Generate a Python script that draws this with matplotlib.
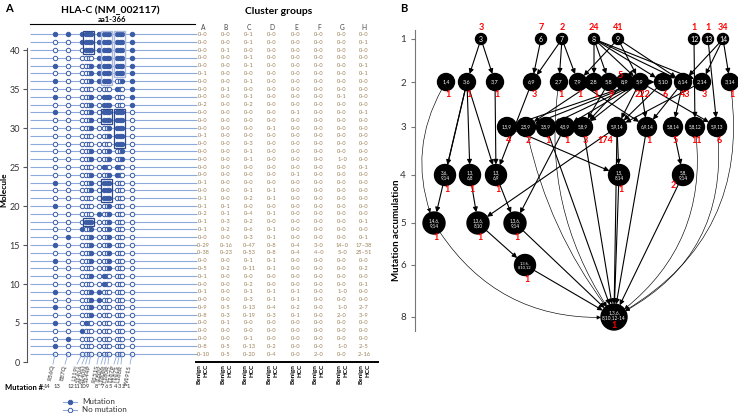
import numpy as np
import matplotlib.pyplot as plt
from matplotlib.patches import Circle, Rectangle

plt.rcParams['font.family'] = ['Lato', 'DejaVu Sans']

W, H = 738, 413

# ---------------- panel A data ----------------
mutation_names = ["R56Q", "E87Q", "L119I", "S140A", "S140N", "S144P", "R151S",
                  "I180V", "L180M", "L180R", "T187P", "T187S", "L188R", "W191S"]
mutation_numbers = [14, 13, 12, 11, 10, 9, 8, 7, 6, 5, 4, 3, 2, 1]

# molecule 42 (top) down to molecule 1, one char per mutation column
molecules = [
    "11111111111111", "00111111111111", "00011111111111", "00000011111111",
    "10000111111111", "00000111111111", "10000111110011", "00000000001001",
    "10000101110001", "00000101110001", "10000101111110", "00000101111110",
    "00000100011110", "00000000011110", "00000000001110", "00000100010010",
    "00000100010010", "00000001001000", "00000100011000", "10000101110000",
    "00000101110000", "00000001110000", "10000000010000", "00000010010000",
    "00011100010000", "00100100010000", "01000100010000", "10000100010000",
    "00000100010000", "10000100010000", "00000000010000", "00000101000000",
    "00000001000000", "10000110000000", "00000110000000", "10000100000000",
    "00000100000000", "10010000000000", "00100000000000", "01000000000000",
    "10000000000000", "00000000000000",
]

# boxes: (first col, last col, lowest molecule, highest molecule, light?)
boxes = [(3, 5, 40, 42, False), (7, 9, 36, 42, True), (10, 12, 37, 42, True),
         (7, 9, 31, 32, False), (10, 12, 28, 32, False), (7, 9, 21, 23, False),
         (3, 5, 18, 18, False)]

cluster_names = ["A", "B", "C", "D", "E", "F", "G", "H"]
cluster_rows = [
    "0-0 0-0 0-1 0-0 0-0 0-0 0-0 0-0", "0-0 0-0 0-1 0-0 0-0 0-0 0-0 0-1",
    "0-0 0-1 0-0 0-0 0-0 0-0 0-0 0-0", "0-0 0-0 0-1 0-0 0-0 0-0 0-0 0-0",
    "0-0 0-0 0-1 0-0 0-0 0-0 0-0 0-1", "0-1 0-0 0-0 0-0 0-0 0-0 0-0 0-1",
    "0-0 0-0 0-1 0-0 0-0 0-0 0-0 0-0", "0-0 0-1 0-0 0-0 0-0 0-0 0-0 0-0",
    "0-0 0-0 0-1 0-0 0-0 0-0 0-1 0-0", "0-2 0-0 0-2 0-0 0-0 0-0 0-0 0-0",
    "0-0 0-0 0-0 0-0 0-1 0-0 0-0 0-1", "0-0 0-0 0-0 0-0 0-0 0-0 0-0 0-0",
    "0-0 0-0 0-0 0-1 0-0 0-0 0-0 0-0", "0-1 0-0 0-0 0-0 0-0 0-0 0-0 0-0",
    "0-0 0-0 0-3 0-0 0-0 0-0 0-0 0-0", "0-0 0-0 0-1 0-0 0-0 0-0 0-0 0-0",
    "0-0 0-0 0-1 0-0 0-0 0-0 1-0 0-0", "0-0 0-0 0-0 0-0 0-0 0-0 0-0 0-1",
    "0-0 0-0 0-0 0-0 0-1 0-0 0-0 0-0", "0-1 0-0 0-0 0-0 0-0 0-0 0-0 0-0",
    "0-0 0-0 0-1 0-1 0-0 0-0 0-0 0-0", "0-1 0-0 0-2 0-1 0-0 0-0 0-0 0-0",
    "0-1 0-1 0-0 0-0 0-0 0-0 0-0 0-0", "0-2 0-1 0-4 0-1 0-0 0-0 0-0 0-0",
    "0-1 0-3 0-2 0-0 0-0 0-0 0-0 0-1", "0-1 0-2 0-6 0-1 0-0 0-0 0-0 0-0",
    "0-0 0-0 0-3 0-1 0-0 0-0 0-0 0-1", "0-29 0-16 0-47 0-8 0-4 3-0 14-0 17-38",
    "0-38 0-23 0-53 0-8 0-4 4-0 5-0 25-51", "0-0 0-0 0-1 0-1 0-0 0-0 0-0 0-0",
    "0-5 0-2 0-11 0-1 0-0 0-0 0-0 0-2", "0-1 0-0 0-0 0-0 0-0 0-0 0-0 0-0",
    "0-0 0-0 0-2 0-0 0-0 0-0 0-0 0-1", "0-1 0-0 0-1 0-1 0-1 0-0 1-0 0-0",
    "0-0 0-0 0-3 0-1 0-1 0-0 0-0 0-0", "0-9 0-5 0-13 0-4 0-2 0-0 1-0 2-7",
    "0-8 0-3 0-19 0-3 0-1 0-0 2-0 3-9", "0-0 0-1 0-0 0-0 0-0 0-0 0-0 0-0",
    "0-0 0-0 0-0 0-0 0-0 0-0 0-0 0-0", "0-0 0-0 0-1 0-0 0-0 0-0 0-0 0-0",
    "0-8 0-5 0-13 0-2 0-0 0-0 1-0 2-5", "0-10 0-5 0-20 0-4 0-0 2-0 0-0 2-16",
]

# ---------------- panel B data ----------------
# (set of mutations, level, number of molecules)
nodes = [
    ("3", 1, 3), ("6", 1, 7), ("7", 1, 2), ("8", 1, 24), ("9", 1, 41),
    ("12", 1, 1), ("13", 1, 1), ("14", 1, 34),
    ("1,4", 2, 1), ("3,6", 2, 1), ("3,7", 2, 1), ("6,9", 2, 3), ("2,7", 2, 1),
    ("7,9", 2, 1), ("2,8", 2, 1), ("5,8", 2, 9), ("8,9", 2, 5), ("5,9", 2, 222),
    ("5,10", 2, 6), ("6,14", 2, 43), ("2,14", 2, 3), ("3,14", 2, 1),
    ("1,5,9", 3, 4), ("2,5,9", 3, 2), ("3,5,9", 3, 1), ("4,5,9", 3, 1),
    ("5,8,9", 3, 3), ("5,9,14", 3, 174), ("6,9,14", 3, 1), ("5,8,14", 3, 5),
    ("5,8,12", 3, 11), ("5,9,13", 3, 6),
    ("3,6,9,14", 4, 1), ("1,3,6,8", 4, 1), ("1,3,6,9", 4, 1), ("1,5,8,14", 4, 1),
    ("5,8,9,14", 4, 2),
    ("1,4,6,9,14", 5, 1), ("1,3,6,8,10", 5, 1), ("1,3,6,9,14", 5, 1),
    ("1,3,6,8,10,12", 6, 1),
    ("1,3,6,8,10,12-14", 8, 1),
]
edges = [
    ("3", "3,6"), ("3", "3,7"), ("6", "6,9"), ("7", "6,9"), ("7", "2,7"), ("7", "7,9"),
    ("8", "2,8"), ("8", "5,8"), ("8", "5,9"), ("8", "5,10"), ("8", "6,14"), ("8", "2,14"),
    ("9", "7,9"), ("9", "5,9"), ("9", "6,14"),
    ("14", "6,14"), ("14", "2,14"), ("14", "3,14"),
    ("12", "5,8,12"), ("13", "5,9,13"), ("5,9", "5,10"),
    ("5,9", "1,5,9"), ("5,9", "2,5,9"), ("5,9", "3,5,9"), ("5,9", "4,5,9"),
    ("5,9", "5,8,9"), ("5,9", "5,9,14"), ("5,9", "6,9,14"), ("5,9", "5,9,13"),
    ("6,14", "6,9,14"), ("6,14", "5,8,14"), ("2,14", "5,9,14"), ("5,10", "5,9,14"),
    ("5,8", "5,8,9"), ("2,8", "2,5,9"), ("7,9", "6,9,14"), ("8,9", "5,8,9"),
    ("6,9", "1,3,6,9"), ("3,6", "3,6,9,14"), ("3,6", "1,3,6,8"), ("3,6", "1,3,6,9"),
    ("3,7", "1,3,6,9"), ("3,6", "1,4,6,9,14"),
    ("5,9,14", "1,5,8,14"), ("1,5,9", "1,5,8,14"), ("5,8,14", "5,8,9,14"),
    ("1,3,6,8", "1,3,6,8,10"), ("1,3,6,9", "1,3,6,9,14"), ("5,9,14", "1,3,6,8,10"),
    ("4,5,9", "1,3,6,9,14"), ("1,3,6,8,10", "1,3,6,8,10,12"),
    ("1,3,6,8,10,12", "1,3,6,8,10,12-14"), ("1,3,6,9,14", "1,3,6,8,10,12-14"),
    ("1,5,8,14", "1,3,6,8,10,12-14"), ("5,8,9,14", "1,3,6,8,10,12-14"),
    ("6,9,14", "1,3,6,8,10,12-14"), ("3,5,9", "1,3,6,8,10,12-14"),
    ("5,8,9", "1,3,6,8,10,12-14"), ("5,9,14", "1,3,6,8,10,12-14"),
]
curved_edges = [
    ("1,4", "1,4,6,9,14", 0.25), ("1,4,6,9,14", "1,3,6,8,10,12-14", 0.3),
    ("2,7", "1,3,6,8,10,12-14", 0.2), ("2,5,9", "1,3,6,8,10,12-14", 0.12),
    ("5,8,12", "1,3,6,8,10,12-14", -0.3), ("5,9,13", "1,3,6,8,10,12-14", -0.35),
    ("3,14", "1,3,6,8,10,12-14", -0.35),
]

# ---------------- layout ----------------
fig = plt.figure(figsize=(W / 100, H / 100), dpi=100)

def px_axes(x0, y0, x1, y1):
    return fig.add_axes([x0 / W, 1 - y1 / H, (x1 - x0) / W, (y1 - y0) / H])

blue = '#3a5ba6'
light = '#8eaadb'
n_mol = len(molecules)
mut_x = [55, 68, 82, 86, 88.5, 91, 99, 104, 106.5, 109, 117, 119.5, 122, 132]
label_x = [53, 65, 77, 82, 85.5, 89, 97, 101, 104.5, 108, 114, 117.5, 121, 130]
num_x = [47, 57, 71, 77, 83, 87, 96, 102, 106, 110, 116, 119, 123, 128]
col_x = [203, 226, 249, 272, 296, 319, 342, 364]

axA = px_axes(27, 26.6, 390, 362)
axA.set_xlim(27, 390)
axA.set_ylim(0, 43)
unit = 7.8  # px per molecule

def ypx(p):
    return (362 - p) / unit

for s in ['top', 'right', 'bottom']:
    axA.spines[s].set_visible(False)
axA.spines['left'].set_bounds(0, 40.3)
axA.spines['left'].set_color('#555555')
axA.set_xticks([])
axA.set_yticks(range(0, 41, 5))
axA.tick_params(axis='y', labelsize=6.5, length=3, pad=2, color='#555555', labelcolor='#333333')
axA.text(4, ypx(190), "Molecule", rotation=90, fontsize=6, fontweight='bold',
         ha='center', va='center', clip_on=False)

rows = np.arange(n_mol, 0, -1)
axA.hlines(rows, 30, 197, color=light, lw=0.8, zorder=1)
for j, x in enumerate(mut_x):
    status = np.array([int(m[j]) for m in molecules])
    axA.plot(np.full(n_mol, x)[status == 0], rows[status == 0], 'o', ms=3.2, mfc='white',
             mec=blue, mew=0.7, zorder=2)
    axA.plot(np.full(n_mol, x)[status == 1], rows[status == 1], 'o', ms=3.2, mfc=blue,
             mec=blue, mew=0.7, zorder=3)

for c0, c1, r0, r1, is_light in boxes:
    x0 = mut_x[c0] - 3
    x1 = mut_x[c1] + 3
    axA.add_patch(Rectangle((x0, r0 - 0.5), x1 - x0, r1 - r0 + 1, fill=False,
                            ec='#a9b8dc' if is_light else '#2e4a8c',
                            lw=1.0 if is_light else 0.9, zorder=4))

# titles
axA.text(110, ypx(10), "HLA-C (NM_002117)", fontsize=7.5, fontweight='bold',
         ha='center', va='center', clip_on=False)
axA.text(112, ypx(19), "aa1-366", fontsize=5.5, fontweight='bold', ha='center',
         va='center', clip_on=False)
axA.plot([30, 195], [ypx(24), ypx(24)], color='black', lw=0.8, clip_on=False)
axA.text(5, ypx(8), "A", fontsize=8, fontweight='bold', ha='left', va='center', clip_on=False)

# mutation labels
for j, name in enumerate(mutation_names):
    axA.plot([mut_x[j], label_x[j]], [1, ypx(364)], color=light, lw=0.6, clip_on=False)
    axA.text(label_x[j], ypx(365), name, rotation=80, rotation_mode='anchor', ha='right',
             va='center', fontsize=4.5, color='#333333', clip_on=False)
    axA.text(num_x[j], ypx(387), str(mutation_numbers[j]), fontsize=4.2, ha='center',
             va='center', color='#333333', clip_on=False)
axA.text(5, ypx(387), "Mutation #:", fontsize=5.5, fontweight='bold', ha='left',
         va='center', clip_on=False)
for k, (lab, fc) in enumerate([("Mutation", blue), ("No mutation", 'white')]):
    yy = ypx(402 + 8 * k)
    axA.plot([63, 77], [yy, yy], color=light, lw=0.8, clip_on=False)
    axA.plot([70], [yy], 'o', ms=3.2, mfc=fc, mec=blue, mew=0.7, clip_on=False)
    axA.text(82, yy, lab, fontsize=5.8, ha='left', va='center', color='#333333', clip_on=False)

# cluster table
axA.text(279, ypx(11), "Cluster groups", fontsize=7.5, fontweight='bold', ha='center',
         va='center', clip_on=False)
for c, name in enumerate(cluster_names):
    axA.text(col_x[c], ypx(28), name, fontsize=4.8, ha='center', va='center', color='#444444')
    for i, row in enumerate(cluster_rows):
        axA.text(col_x[c], rows[i], row.split()[c].replace('-', '\u2013'), fontsize=4.1,
                 ha='center', va='center', color='#9a7f55')
    axA.text(col_x[c] - 3.5, ypx(364), "Benign", rotation=90, fontsize=4.6, fontweight='bold',
             ha='center', va='top', clip_on=False)
    axA.text(col_x[c] + 3.5, ypx(364), "HCC", rotation=90, fontsize=4.6, fontweight='bold',
             ha='center', va='top', clip_on=False)
axA.plot([196, 378], [0, 0], color='black', lw=1.4, clip_on=False)

# ---------------- panel B ----------------
level_y = {1: 39, 2: 82, 3: 127, 4: 175, 5: 223, 6: 265, 8: 317}
node_x = [481, 541, 562, 594, 618, 694, 708, 723,
          446, 467, 495, 532, 559, 578, 594, 609, 625, 640, 663, 683, 702, 730,
          507, 526, 546, 565, 583, 617, 647, 673, 695, 717,
          445, 470, 496, 619, 683,
          434, 478, 515,
          525,
          614]
radius = {1: 5.5, 2: 8.5, 3: 9.5, 4: 10.5, 5: 11, 6: 10.5, 8: 13}
label_size = {1: 5, 2: 4, 3: 3.3, 4: 3.3, 5: 3.3, 6: 3.0, 8: 3.4}
count_shift = {"8,9": (-5, -19), "5,9,14": (-12, 0), "5,8,9,14": (-10, -4)}

axB = px_axes(415, 0, 738, 413)
axB.set_xlim(415, 738)
axB.set_ylim(413, 0)
for s in ['top', 'right', 'bottom']:
    axB.spines[s].set_visible(False)
axB.spines['left'].set_bounds(30, 331)
axB.spines['left'].set_color('#777777')
axB.set_xticks([])
axB.set_yticks([level_y[k] for k in level_y])
axB.set_yticklabels([str(k) for k in level_y])
axB.tick_params(axis='y', labelsize=7, length=3, color='#777777', labelcolor='#333333')
axB.text(397, 230, "Mutation accumulation", rotation=90, fontsize=7, fontweight='bold',
         ha='center', va='center', clip_on=False)
axB.text(400, 8, "B", fontsize=8, fontweight='bold', ha='left', va='center', clip_on=False)

pos = {}
rad = {}
for (key, lev, cnt), x in zip(nodes, node_x):
    y = level_y[lev]
    r = radius[lev]
    pos[key] = (x, y)
    rad[key] = r
    axB.add_patch(Circle((x, y), r, color='black', zorder=3))
    if lev >= 4:
        parts = key.split(',')
        half = (len(parts) + 1) // 2
        txt = ','.join(parts[:half]) + ',\n' + ','.join(parts[half:])
    else:
        txt = key
    axB.text(x, y - (1.5 if lev == 8 else 0), txt, color='white', fontsize=label_size[lev],
             ha='center', va='center', zorder=4, linespacing=1.0)
    if lev == 1:
        cx, cy = x, y - 12
    elif lev == 8:
        cx, cy = x, y + 8
    else:
        dx, dy = count_shift.get(key, (2, 0))
        cx, cy = x + dx, y + r + 4 + dy
    axB.text(cx, cy, str(cnt), color='red', fontsize=6.5, fontweight='bold',
             ha='center', va='center', zorder=5)

for a, b in edges:
    axB.annotate('', xy=pos[b], xytext=pos[a],
                 arrowprops=dict(arrowstyle='-|>', color='black', lw=0.8, mutation_scale=7,
                                 shrinkA=rad[a] * 0.72, shrinkB=rad[b] * 0.72), zorder=2)
for a, b, r in curved_edges:
    axB.annotate('', xy=pos[b], xytext=pos[a],
                 arrowprops=dict(arrowstyle='-|>', color='black', lw=0.45, mutation_scale=6,
                                 shrinkA=rad[a] * 0.72, shrinkB=rad[b] * 0.72,
                                 connectionstyle='arc3,rad=%s' % r), zorder=2)

fig.savefig('out.png', dpi=100)
